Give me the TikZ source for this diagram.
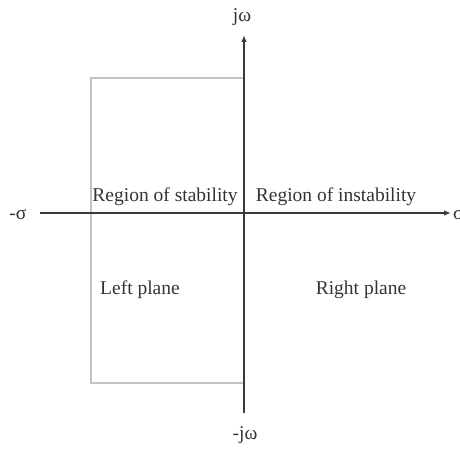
\documentclass[tikz,border=0pt]{standalone}
\usepackage{fontspec}
\setmainfont{Liberation Serif}
\usetikzlibrary{arrows.meta}
\definecolor{axisc}{HTML}{3A3A3A}
\definecolor{boxc}{HTML}{C4C4C4}
\definecolor{txtc}{HTML}{333333}
\begin{document}
\begin{tikzpicture}[x=1pt,y=-1pt,
  axis/.style={draw=axisc,line width=1.5pt,-{Latex[length=7pt,width=5.5pt]}},
  lbl/.style={text=txtc,font=\fontsize{19.5}{21}\selectfont,inner sep=0pt},
  region/.style={draw=boxc,line width=2.6pt}]
\useasboundingbox (0,0) rectangle (460,449);
% coordinates
\coordinate (xl) at (40,213);
\coordinate (xr) at (451,213);
\coordinate (yb) at (244,413);
\coordinate (yt) at (244,35);
\coordinate (r1) at (91,78);
\coordinate (r2) at (245,383);
% region box
\draw[region] (245,78) -- (r1) -- (91,383) -- (245,383);
% axes
\draw[axis] (xl) -- (xr);
\draw[axis] (yb) -- (yt);
% labels
\node[lbl] (jw) at (242,17) {jω};
\node[lbl] (mjw) at (245,435) {-jω};
\node[lbl] (ms) at (18,215) {-σ};
\node[lbl,anchor=west] (s) at (453,215) {σ};
\node[lbl] (rs) at (165,197) {Region of stability};
\node[lbl] (ri) at (336,197) {Region of instability};
\node[lbl] (lp) at (140,290) {Left plane};
\node[lbl] (rp) at (361,290) {Right plane};
\end{tikzpicture}
\end{document}
